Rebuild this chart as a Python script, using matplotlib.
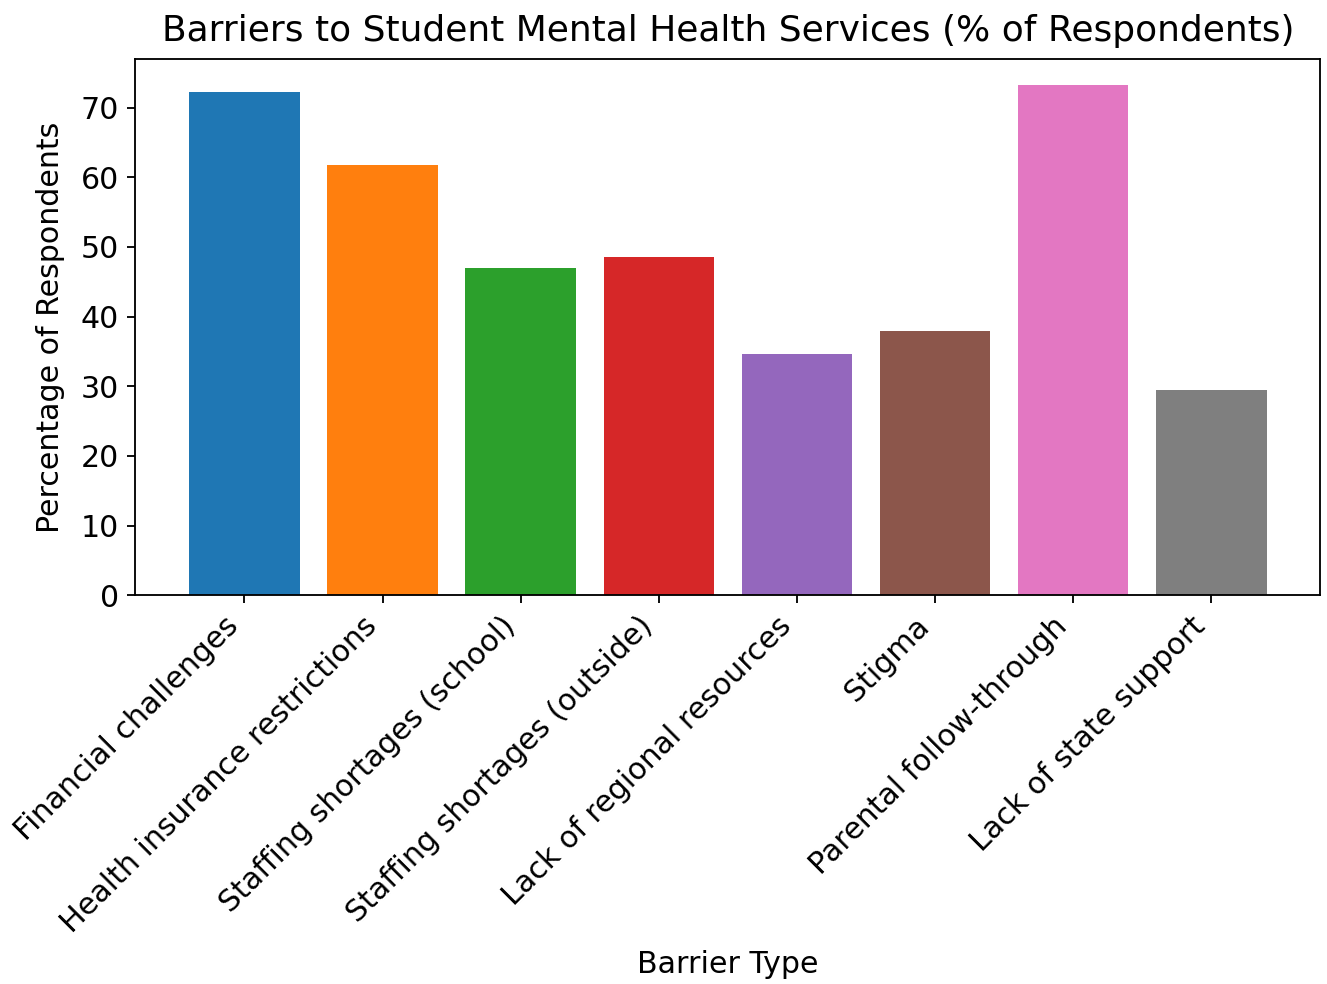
import matplotlib
matplotlib.use("Agg")
import matplotlib.pyplot as plt

# Barrier categories and share of respondents (%)
barriers = [
    "Financial challenges",
    "Health insurance restrictions",
    "Staffing shortages (school)",
    "Staffing shortages (outside)",
    "Lack of regional resources",
    "Stigma",
    "Parental follow-through",
    "Lack of state support",
]
percentages = [72.3, 61.8, 47.0, 48.5, 34.6, 38.0, 73.3, 29.4]
bar_colors = [
    "#1f77b4", "#ff7f0e", "#2ca02c", "#d62728",
    "#9467bd", "#8c564b", "#e377c2", "#7f7f7f",
]

plt.rcParams["font.size"] = 13

fig, ax = plt.subplots(figsize=(7.994, 5.928), dpi=166)
fig.subplots_adjust(left=0.102, right=0.995, top=0.940, bottom=0.395)

ax.bar(barriers, percentages, color=bar_colors)
ax.set_title("Barriers to Student Mental Health Services (% of Respondents)",
             fontsize=15.6, pad=8)
ax.set_xlabel("Barrier Type", fontsize=13, labelpad=5)
ax.set_ylabel("Percentage of Respondents", fontsize=13, labelpad=7)
ax.tick_params(labelsize=13)
plt.setp(ax.get_xticklabels(), rotation=45, ha="right")

fig.savefig("out.png", dpi=166)
